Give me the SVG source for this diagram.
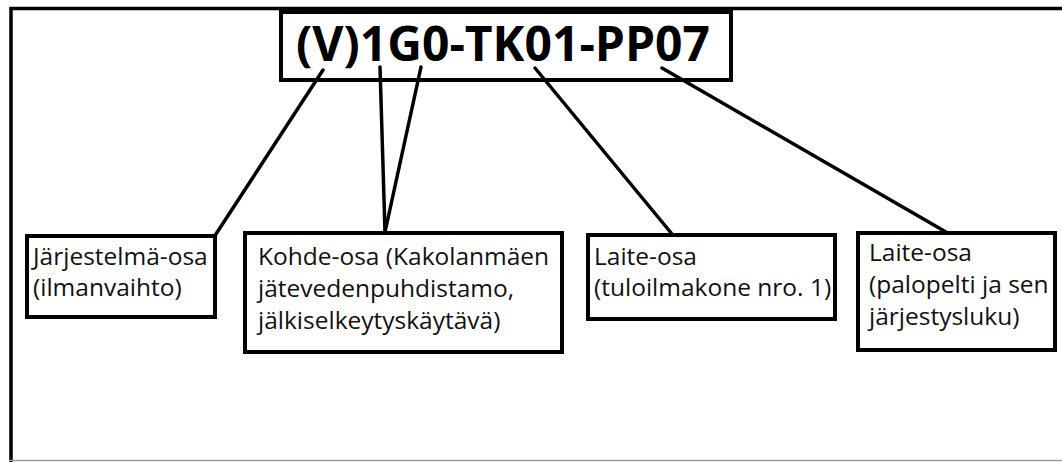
<svg xmlns="http://www.w3.org/2000/svg" width="1062" height="462" viewBox="0 0 1062 462">
<style>
.box{fill:#fff;stroke:#000;stroke-width:4}
.lbl{font-family:"Open Sans","Noto Sans","Liberation Sans",sans-serif;font-size:24.5px;fill:#111}
.ttl{font-family:"Open Sans","Noto Sans","Liberation Sans",sans-serif;font-size:48px;font-weight:bold;fill:#000}
.con{stroke:#000;stroke-width:3.5;stroke-linecap:round;fill:none}
</style>
<rect width="1062" height="462" fill="#fff"/>
<g id="frame">
<path d="M11 462 V8.5 H1062" fill="none" stroke="#000" stroke-width="3.5"/>
<line x1="9" y1="460.5" x2="1062" y2="460.5" stroke="#9a9a9a" stroke-width="1.5"/>
</g>
<g id="title">
<rect class="box" x="281" y="12" width="450" height="68"/>
<text class="ttl" x="296" y="61">(V)1G0-TK01-PP07</text>
</g>
<g id="connectors">
<line class="con" x1="323" y1="70" x2="216" y2="234"/>
<line class="con" x1="380" y1="67" x2="385" y2="232"/>
<line class="con" x1="421" y1="67" x2="385" y2="232"/>
<line class="con" x1="535" y1="68" x2="672" y2="234"/>
<line class="con" x1="662" y1="68" x2="946" y2="232"/>
</g>
<g id="n1">
<rect class="box" x="27" y="236" width="188" height="81"/>
<text class="lbl" x="33" y="265">Järjestelmä-osa</text>
<text class="lbl" x="33" y="296">(ilmanvaihto)</text>
</g>
<g id="n2">
<rect class="box" x="245" y="233" width="317" height="119"/>
<text class="lbl" x="258" y="265">Kohde-osa (Kakolanmäen</text>
<text class="lbl" x="258" y="297">jätevedenpuhdistamo,</text>
<text class="lbl" x="258" y="329">jälkiselkeytyskäytävä)</text>
</g>
<g id="n3">
<rect class="box" x="588" y="235" width="247" height="84"/>
<text class="lbl" x="594" y="265">Laite-osa</text>
<text class="lbl" x="594" y="296">(tuloilmakone nro. 1)</text>
</g>
<g id="n4">
<rect class="box" x="858" y="233" width="197" height="117"/>
<text class="lbl" x="869" y="261">Laite-osa</text>
<text class="lbl" x="869" y="293">(palopelti ja sen</text>
<text class="lbl" x="869" y="325">järjestysluku)</text>
</g>
</svg>
